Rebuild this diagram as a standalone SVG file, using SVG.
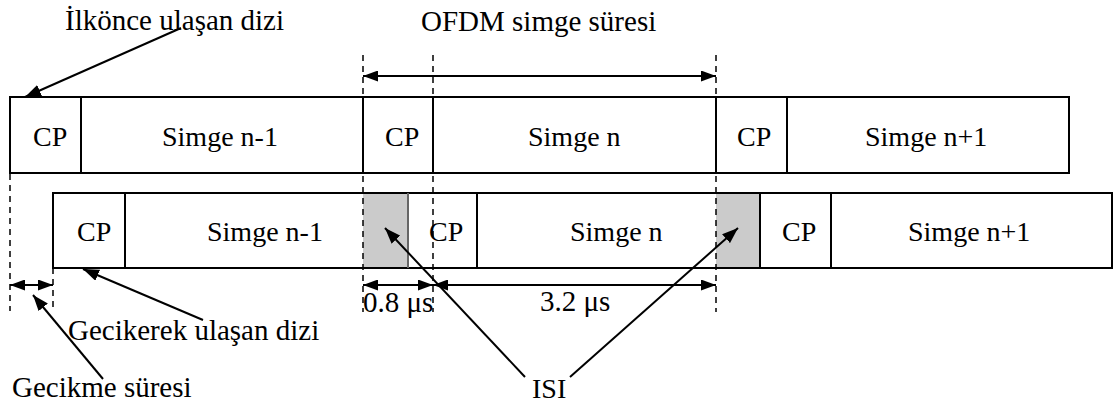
<svg xmlns="http://www.w3.org/2000/svg" width="1114" height="403" viewBox="0 0 1114 403">
<style>
text{font-family:'Liberation Serif','Times New Roman',Tinos,'DejaVu Serif',serif;fill:#000}
.t{font-size:28px}
.l{font-size:29px}
.box{fill:#fff;stroke:#000;stroke-width:2}
.div{stroke:#000;stroke-width:2}
.gray{fill:#cbcbcb;stroke:none}
.dash{stroke:#000;stroke-width:1.5;stroke-dasharray:6 5;fill:none}
.arr{stroke:#000;stroke-width:2;fill:none}
</style>
<defs>
<marker id="ah" markerUnits="userSpaceOnUse" markerWidth="15" markerHeight="11" refX="15" refY="5.5" orient="auto-start-reverse">
<path d="M0,0 L15,5.5 L0,11 z" fill="#000"/>
</marker>
<marker id="ahb" markerUnits="userSpaceOnUse" markerWidth="16" markerHeight="12" refX="16" refY="6" orient="auto">
<path d="M0,0 L16,6 L0,12 z" fill="#000"/>
</marker>
</defs>
<rect width="1114" height="403" fill="#fff"/>

<g id="top-row">
<rect class="box" x="10" y="97" width="1059" height="76"/>
<line class="div" x1="81" y1="97" x2="81" y2="173"/>
<line class="div" x1="363" y1="97" x2="363" y2="173"/>
<line class="div" x1="433" y1="97" x2="433" y2="173"/>
<line class="div" x1="716" y1="97" x2="716" y2="173"/>
<line class="div" x1="787" y1="97" x2="787" y2="173"/>
</g>
<g id="top-cp1"><text class="t" x="33" y="146" font-family="Liberation Serif, serif">CP</text></g>
<g id="top-sym-n-1"><text class="t" x="162" y="146" font-family="Liberation Serif, serif">Simge n-1</text></g>
<g id="top-cp2"><text class="t" x="385" y="146" font-family="Liberation Serif, serif">CP</text></g>
<g id="top-sym-n"><text class="t" x="528" y="146" font-family="Liberation Serif, serif">Simge n</text></g>
<g id="top-cp3"><text class="t" x="737" y="146" font-family="Liberation Serif, serif">CP</text></g>
<g id="top-sym-n1"><text class="t" x="865" y="146" font-family="Liberation Serif, serif">Simge n+1</text></g>

<g id="bottom-row">
<rect class="box" x="53" y="193" width="1059" height="75"/>
<rect class="gray" x="363" y="194" width="45" height="73"/>
<rect class="gray" x="716" y="194" width="44" height="73"/>
<line class="div" x1="125" y1="193" x2="125" y2="268"/>
<line class="div" x1="408" y1="193" x2="408" y2="268" style="stroke:#666"/>
<line class="div" x1="477" y1="193" x2="477" y2="268"/>
<line class="div" x1="760" y1="193" x2="760" y2="268"/>
<line class="div" x1="831" y1="193" x2="831" y2="268"/>
</g>
<g id="bot-cp1"><text class="t" x="77" y="241">CP</text></g>
<g id="bot-sym-n-1"><text class="t" x="207" y="241">Simge n-1</text></g>
<g id="bot-cp2"><text class="t" x="429" y="241">CP</text></g>
<g id="bot-sym-n"><text class="t" x="570" y="241">Simge n</text></g>
<g id="bot-cp3"><text class="t" x="782" y="241">CP</text></g>
<g id="bot-sym-n1"><text class="t" x="908" y="241">Simge n+1</text></g>

<g id="labels">
<text class="l" x="65" y="30">İlkönce ulaşan dizi</text>
<text class="l" x="421" y="31">OFDM simge süresi</text>
<text class="l" x="363" y="312">0.8 μs</text>
<text class="l" x="540" y="311">3.2 μs</text>
<text class="l" x="68" y="340">Gecikerek ulaşan dizi</text>
<text class="l" x="12" y="397">Gecikme süresi</text>
<text class="t" x="532" y="398">ISI</text>
</g>

<g id="connectors">
<line class="dash" x1="10" y1="97" x2="10" y2="311"/>
<line class="dash" x1="53" y1="268" x2="53" y2="311"/>
<line class="dash" x1="363" y1="55" x2="363" y2="312"/>
<line class="dash" x1="433" y1="55" x2="433" y2="312"/>
<line class="dash" x1="716" y1="55" x2="716" y2="312"/>
<line class="arr" x1="363" y1="76" x2="716" y2="76" marker-start="url(#ah)" marker-end="url(#ah)"/>
<line class="arr" x1="10" y1="285" x2="53" y2="285" marker-start="url(#ah)" marker-end="url(#ah)"/>
<line class="arr" x1="363" y1="285" x2="433" y2="285" marker-start="url(#ah)" marker-end="url(#ah)"/>
<line class="arr" x1="433" y1="285" x2="716" y2="285" marker-start="url(#ah)" marker-end="url(#ah)"/>
<line class="arr" x1="181" y1="28" x2="25" y2="97" marker-end="url(#ahb)"/>
<line class="arr" x1="203" y1="320" x2="83" y2="269" marker-end="url(#ahb)"/>
<line class="arr" x1="103" y1="379" x2="33" y2="295" marker-end="url(#ahb)"/>
<line class="arr" x1="525" y1="377" x2="385" y2="228" marker-end="url(#ahb)"/>
<line class="arr" x1="570" y1="377" x2="738" y2="228" marker-end="url(#ahb)"/>
</g>
</svg>
